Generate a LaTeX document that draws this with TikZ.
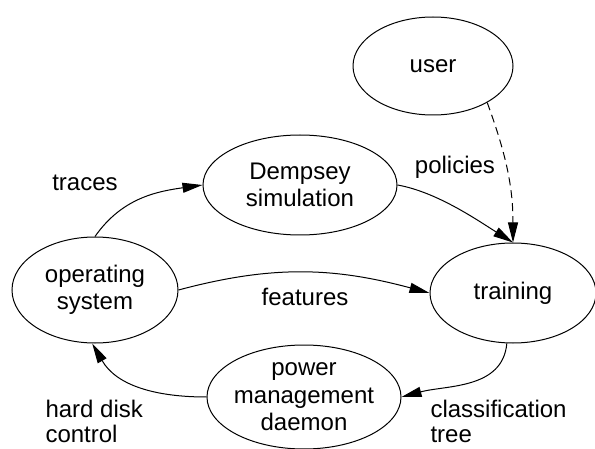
\documentclass[tikz,border=0pt]{standalone}
\usepackage{fontspec}
\setmainfont{Liberation Sans}
\usetikzlibrary{shapes.geometric,arrows.meta}

\begin{document}
\begin{tikzpicture}[x=1pt,y=1pt,line width=1pt,
  state/.style={draw,ellipse,inner sep=-3pt,align=center,font=\fontsize{24}{27.5}\selectfont},
  lab/.style={inner sep=0pt,align=left,font=\fontsize{24}{25}\selectfont},
  flow/.style={-{Triangle[length=20pt,width=10pt]}}]
\useasboundingbox (0,0) rectangle (595,448);
\node[state,minimum width=160,minimum height=98]  (user) at (433,382) {user};
\node[state,minimum width=194,minimum height=100] (sim)  at (300,263) {Dempsey\\simulation};
\node[state,minimum width=166,minimum height=106] (os)   at (95,158)  {operating\\system};
\node[state,minimum width=166,minimum height=100] (train) at (513,155) {training};
\node[state,minimum width=194,minimum height=104] (pmd)  at (304,51)  {power\\management\\daemon};
\node[lab] (traces)   at (85,265)  {traces};
\node[lab] (policies) at (455,281) {policies};
\node[lab] (features) at (305,151) {features};
\node[lab,anchor=west] (ctree) at (430,27) {classification\\tree};
\node[lab,anchor=west] (hdc)   at (45,27)  {hard disk\\control};
\draw[flow] (os.north) to[out=55,in=188] (sim.west);
\draw[flow] (sim.east) to[out=-10,in=148,looseness=0.8] (train.north);
\draw[flow,dash pattern=on 8pt off 5pt] (user.-34) to[out=-70,in=90] (train.north);
\draw[flow] (os.east) to[out=15,in=165] (train.west);
\draw[flow] (train.-97) to[out=-95,in=15] (pmd.east);
\draw[flow] (pmd.west) to[out=180,in=-60] (os.-93);
\end{tikzpicture}
\end{document}
